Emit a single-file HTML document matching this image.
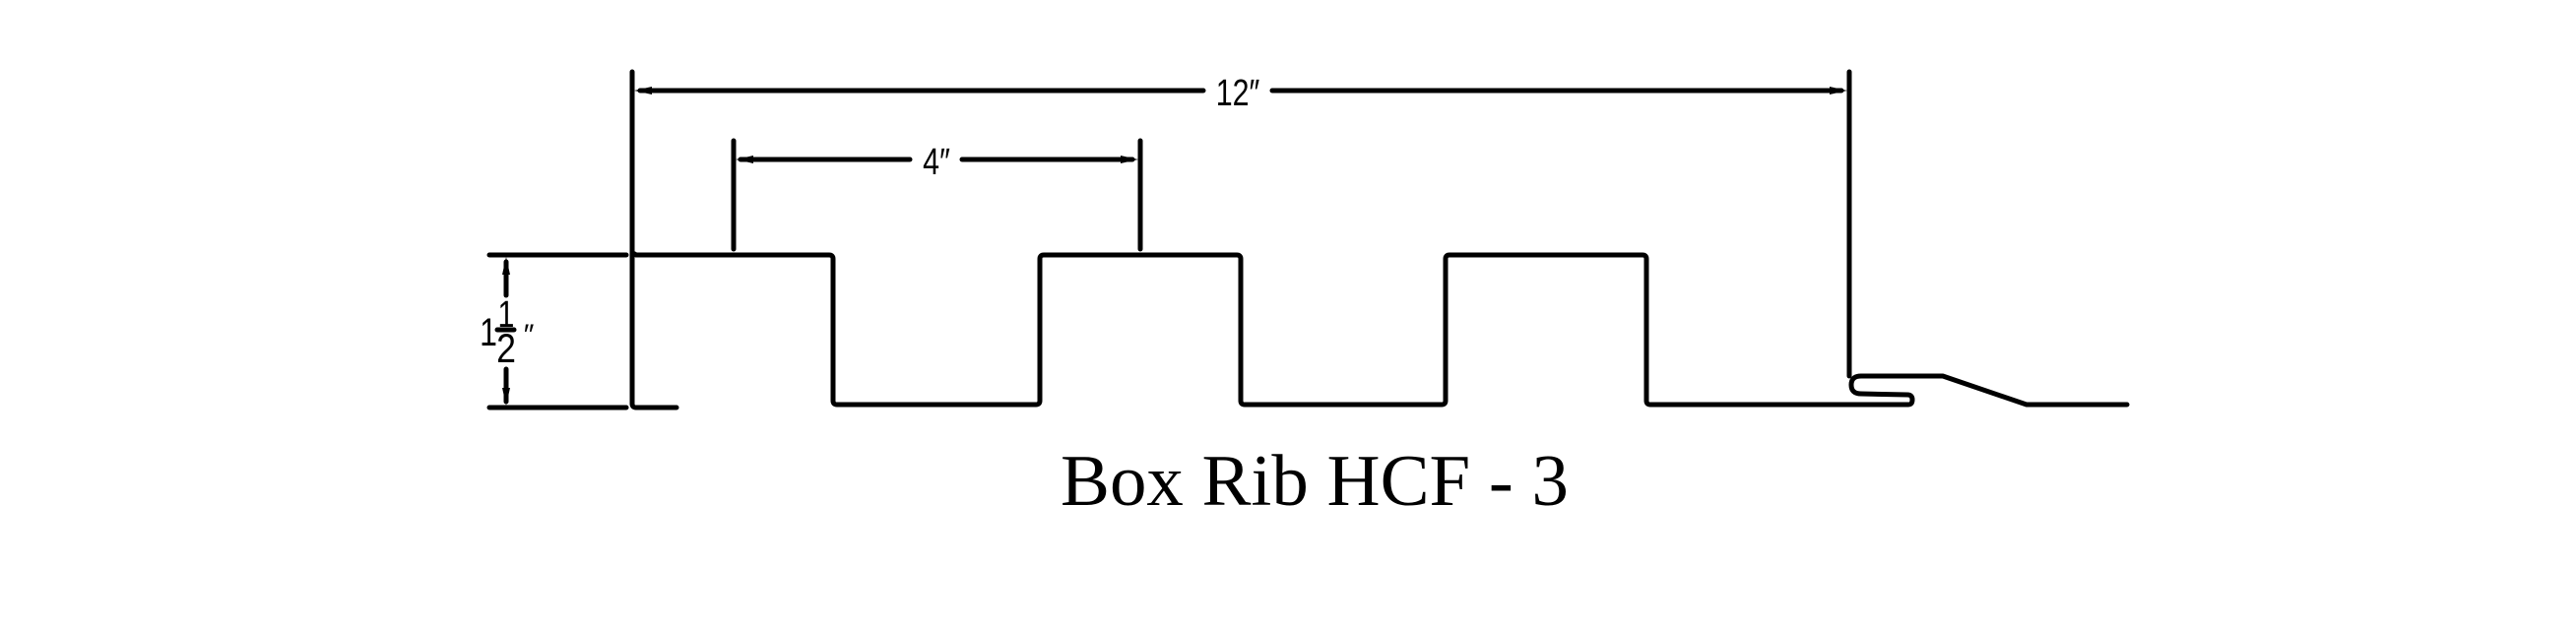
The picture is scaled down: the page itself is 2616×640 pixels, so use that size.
<!DOCTYPE html>
<html><head><style>html,body{margin:0;padding:0;background:#fff;}svg{display:block}</style></head>
<body>
<svg width="2616" height="640" viewBox="0 0 2616 640" xmlns="http://www.w3.org/2000/svg">
<g fill="none" stroke="#000" stroke-width="5" stroke-linecap="round" stroke-linejoin="round">
<line x1="642" y1="73" x2="642" y2="410"/>
<line x1="1878" y1="73" x2="1878" y2="382"/>
<line x1="745" y1="143" x2="745" y2="253"/>
<line x1="1158" y1="143" x2="1158" y2="253"/>
<line x1="497" y1="259" x2="636" y2="259"/>
<line x1="497" y1="414" x2="636" y2="414"/>
<line x1="650" y1="92" x2="1222" y2="92"/>
<line x1="1292" y1="92" x2="1870" y2="92"/>
<line x1="752" y1="162" x2="924" y2="162"/>
<line x1="977" y1="162" x2="1150" y2="162"/>
<line x1="514" y1="266" x2="514" y2="300"/>
<line x1="514" y1="375" x2="514" y2="408"/>
<line x1="505" y1="335" x2="522" y2="335"/>
<path d="M646,414 L687,414 M646,259 L842,259 Q846,259 846,263 L846,407 Q846,411 850,411 L1052,411 Q1056,411 1056,407 L1056,263 Q1056,259 1060,259 L1256,259 Q1260,259 1260,263 L1260,407 Q1260,411 1264,411 L1464,411 Q1468,411 1468,407 L1468,263 Q1468,259 1472,259 L1668,259 Q1672,259 1672,263 L1672,407 Q1672,411 1676,411 L1938,411 Q1942,411 1942,406 Q1942,401 1937,401 L1890,400 Q1880,400 1880,391 Q1880,382 1890,382 L1973,382 L2058,411 L2160,411"/>
<path d="M642,259 Q642,256 646,259 M642,410 Q642,414 646,414" />
</g>
<g fill="#000">
<polygon points="644,92 662,88 662,96"/>
<polygon points="1876,92 1858,88 1858,96"/>
<polygon points="747,162 765,158 765,166"/>
<polygon points="1156,162 1138,158 1138,166"/>
<polygon points="514,261 510,279 518,279"/>
<polygon points="514,412 510,394 518,394"/>
</g>
<g font-family="'Liberation Sans Narrow','Liberation Sans',sans-serif" fill="#000">
<text transform="translate(1257,107) scale(0.8,1)" font-size="38" text-anchor="middle">12″</text>
<text transform="translate(951,177) scale(0.8,1)" font-size="38" text-anchor="middle">4″</text>
<text transform="translate(496,351) scale(0.8,1)" font-size="40" text-anchor="middle">1</text>
<text transform="translate(514,332) scale(0.8,1)" font-size="38" text-anchor="middle">1</text>
<text transform="translate(514,368) scale(0.85,1)" font-size="42" text-anchor="middle">2</text>
<text x="537" y="350" font-size="30" text-anchor="middle">″</text>
</g>
<text x="1335" y="513" font-family="'Liberation Serif',serif" font-size="74" text-anchor="middle" textLength="516" lengthAdjust="spacingAndGlyphs">Box Rib HCF - 3</text>
</svg>
</body></html>
